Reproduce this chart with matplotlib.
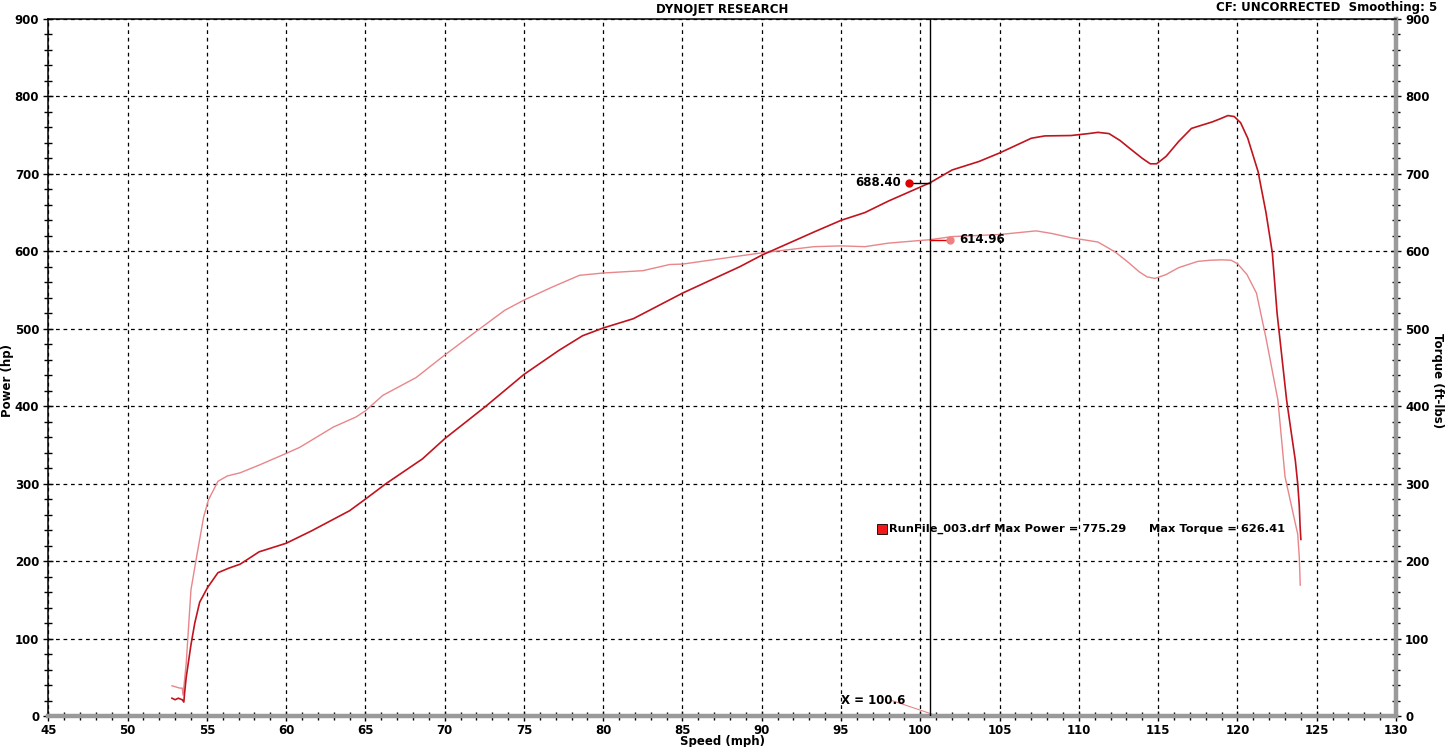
import matplotlib.pyplot as plt
from matplotlib.ticker import MultipleLocator

# dyno run data (speed in mph)
speed_power = [52.8, 53.0, 53.2, 53.45, 53.55, 53.6, 53.7, 54.0, 54.24, 54.55, 55.05, 55.7, 56.4,
               57.1, 58.3, 60.0, 60.7, 61.6, 64.0, 65.0, 66.3, 68.6, 70.0, 72.6, 75.0, 77.2,
               78.7, 80.0, 81.9, 85.0, 88.6, 90.0, 93.3, 95.0, 96.5, 98.0, 100.0, 100.6,
               102.0, 103.7, 105.0, 107.0, 107.85, 109.5, 110.6, 111.2, 111.9, 112.6, 113.2,
               114.0, 114.5, 114.9, 115.5, 116.3, 117.1, 118.4, 118.9, 119.4, 119.8, 120.2,
               120.65, 121.3, 121.8, 122.2, 122.5, 123.1, 123.4, 123.65, 123.8, 123.9, 123.95,
               124.0]
power_hp = [23, 21, 23, 21, 18, 30, 50, 92, 120, 147, 166, 185, 191,
            196, 212, 223, 230, 239, 265, 280, 300, 332, 358, 400, 441, 472,
            491, 501, 513, 546, 580, 595, 625, 640, 650, 665, 683, 688.4,
            705, 716, 727, 746, 749, 749.5, 752, 753.6, 752, 743, 733,
            720, 713, 713, 722.6, 742, 758.7, 767, 771, 775.3, 774, 766,
            746, 703, 650, 598, 520, 408, 365, 330, 300, 271, 245,
            228]

speed_torque = [52.8, 53.3, 53.45, 53.5, 53.7, 54.0, 54.35, 54.8, 55.1, 55.7, 56.3, 57.1, 58.3,
                60.0, 60.87, 62.97, 64.4, 65.0, 66.1, 68.2, 70.0, 71.95, 73.8, 75.0, 76.8,
                78.5, 80.0, 82.5, 84.2, 85.0, 88.6, 90.0, 93.3, 95.0, 96.5, 98.0, 100.0,
                100.6, 102.0, 105.0, 107.3, 108.3, 109.5, 111.2, 112.3, 113.1, 113.8, 114.3,
                114.8, 115.5, 116.3, 117.5, 118.3, 119.0, 119.6, 120.0, 120.6, 121.2, 121.8,
                122.55, 123.0, 123.7, 123.8, 123.9, 123.96]
torque_ftlb = [39, 36, 36, 27, 68, 163, 205, 257, 279, 303, 310, 314, 324,
               339, 347, 373, 386, 394, 414, 437, 466, 496, 524, 537, 554,
               569, 572, 575, 583, 583.5, 594, 598, 606, 607, 606, 610.6, 614,
               614.96, 619, 621.7, 626.4, 623, 617.5, 612, 599, 586, 573.6, 567,
               565, 570, 579, 587, 588.5, 589, 588.5, 584, 570, 546, 488,
               408, 309, 244, 235, 205, 169]

cursor_x = 100.6
cursor_power = 688.40
cursor_torque = 614.96
max_power = 775.29
max_torque = 626.41
run_name = "RunFile_003.drf"

power_color = '#C0141E'
torque_color = '#E8868A'
fs = 8.5

fig = plt.figure(figsize=(14.45, 7.47), dpi=100)
ax = fig.add_axes([0.0334, 0.0415, 0.9327, 0.9331])

ax.plot(speed_torque, torque_ftlb, color=torque_color, lw=1.0, zorder=3)
ax.plot(speed_power, power_hp, color=power_color, lw=1.2, zorder=4)

ax.set_xlim(45, 130)
ax.set_ylim(0, 900)
ax.xaxis.set_major_locator(MultipleLocator(5))
ax.xaxis.set_minor_locator(MultipleLocator(1))
ax.yaxis.set_major_locator(MultipleLocator(100))
ax.yaxis.set_minor_locator(MultipleLocator(20))

ax.grid(True, which='major', color='black', lw=0.9, linestyle=(0, (3, 3)))
ax.tick_params(which='both', direction='inout', color='black', width=1,
               labelsize=fs, right=True, labelright=True, top=False)
ax.tick_params(which='major', length=7)
ax.tick_params(which='minor', length=6)
ax.tick_params(axis='y', pad=3)
ax.tick_params(axis='x', pad=2)
for lab in ax.get_xticklabels() + ax.get_yticklabels():
    lab.set_fontweight('bold')

for side in ['left', 'top']:
    ax.spines[side].set_color('black')
    ax.spines[side].set_linewidth(1.1)
for side in ['right', 'bottom']:
    ax.spines[side].set_color('#9a9a9a')
    ax.spines[side].set_linewidth(3.2)

# axis titles
fig.text(0.4997, 0.008, 'Speed (mph)', fontsize=fs, fontweight='bold', ha='center', va='center')
fig.text(0.0055, 0.491, 'Power (hp)', rotation=90, fontsize=fs, fontweight='bold',
         ha='center', va='center')
fig.text(0.9945, 0.491, 'Torque (ft-lbs)', rotation=270, fontsize=fs, fontweight='bold',
         ha='center', va='center')

fig.text(0.4997, 0.987, 'DYNOJET RESEARCH', fontsize=fs, fontweight='bold', ha='center', va='center')
fig.text(0.9945, 0.99, 'CF: UNCORRECTED  Smoothing: 5', fontsize=fs, fontweight='bold',
         ha='right', va='center')

# cursor and readouts
ax.axvline(cursor_x, color='black', lw=1, zorder=5)
ax.plot([cursor_x - 1.3, cursor_x], [cursor_power, cursor_power], color='black', lw=1, zorder=5)
ax.plot(cursor_x - 1.3, cursor_power, 'o', color='#E00000', ms=5, zorder=6)
ax.text(cursor_x - 1.85, cursor_power, '%.2f' % cursor_power, fontsize=fs, fontweight='bold',
        ha='right', va='center')
ax.plot([cursor_x, cursor_x + 1.3], [cursor_torque, cursor_torque], color='#E00000', lw=1, zorder=5)
ax.plot(cursor_x + 1.3, cursor_torque, 'o', color='#F08080', ms=5, zorder=6)
ax.text(cursor_x + 1.85, cursor_torque, '%.2f' % cursor_torque, fontsize=fs, fontweight='bold',
        ha='left', va='center')
ax.plot([98.2, cursor_x + 0.2], [20, 2], color=torque_color, lw=0.8)
ax.text(95.0, 20, 'X = %.1f' % cursor_x, fontsize=fs, fontweight='bold', ha='left', va='center')

# run legend
ax.plot(97.6, 242, 's', color='#F01818', mec='black', mew=0.6, ms=6.5, zorder=6)
ax.text(98.0, 241, '%s Max Power = %.2f' % (run_name, max_power), fontsize=8.2,
        fontweight='bold', ha='left', va='center')
ax.text(114.4, 241, 'Max Torque = %.2f' % max_torque, fontsize=8.2,
        fontweight='bold', ha='left', va='center')

plt.savefig('out.png', dpi=100)
